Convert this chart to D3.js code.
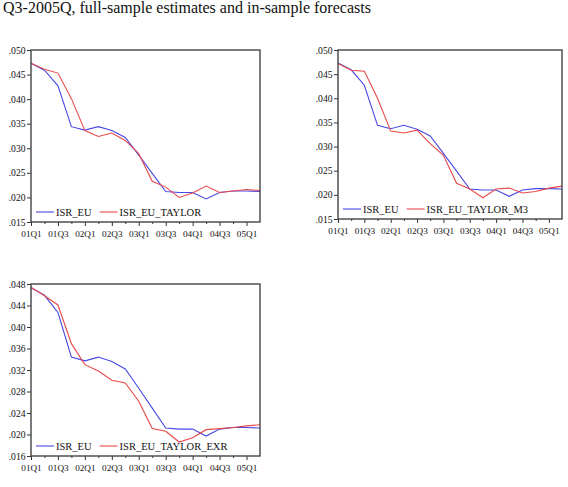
<!DOCTYPE html>
<html>
<head>
<meta charset="utf-8">
<script src="https://cdn.jsdelivr.net/npm/d3@7"></script>
<style>
  body { margin: 0; background: white; }
  svg { display: block; }
</style>
</head>
<body>
<div id="chart"></div>
<script>
// quarters 2001Q1 .. 2005Q2
const quarters = ["01Q1", "01Q2", "01Q3", "01Q4", "02Q1", "02Q2", "02Q3", "02Q4", "03Q1",
    "03Q2", "03Q3", "03Q4", "04Q1", "04Q2", "04Q3", "04Q4", "05Q1", "05Q2"];

const isrEu = [0.0473, 0.0459, 0.0427, 0.0344, 0.0337, 0.0344, 0.0336, 0.0322, 0.0286,
    0.0249, 0.0212, 0.0210, 0.0210, 0.0197, 0.0210, 0.0213, 0.0213, 0.0212];

const isrEuTaylor = [0.0473, 0.0461, 0.0453, 0.0401, 0.0336, 0.0324, 0.0331, 0.0316, 0.0289,
    0.0233, 0.0221, 0.0200, 0.0209, 0.0223, 0.0210, 0.0213, 0.0216, 0.0214];

const isrEuTaylorM3 = [0.0472, 0.0458, 0.0456, 0.0400, 0.0332, 0.0328, 0.0334, 0.0306, 0.0282,
    0.0224, 0.0212, 0.0194, 0.0212, 0.0214, 0.0204, 0.0207, 0.0214, 0.0218];

const isrEuTaylorExr = [0.0474, 0.0458, 0.0441, 0.0369, 0.0330, 0.0318, 0.0301, 0.0296, 0.0262,
    0.0211, 0.0206, 0.0186, 0.0194, 0.0209, 0.0211, 0.0213, 0.0216, 0.0218];

const yTicksA = [0.015, 0.020, 0.025, 0.030, 0.035, 0.040, 0.045, 0.050];
const yTicksB = [0.016, 0.020, 0.024, 0.028, 0.032, 0.036, 0.040, 0.044, 0.048];

const titleText = "Q3-2005Q, full-sample estimates and in-sample forecasts";

const width = 568, height = 487;
const serif = "'Liberation Serif', 'Times New Roman', serif";
const blue = "#4848e6", red = "#e84a4a";

const svg = d3.select("#chart").append("svg")
    .attr("width", width)
    .attr("height", height)
    .attr("font-family", serif);

svg.append("text")
    .attr("x", 3)
    .attr("y", 13)
    .attr("font-size", 16)
    .attr("fill", "#111")
    .text(titleText);

function drawPanel(box, series, yTicks, names) {
    const g = svg.append("g");

    const x = d3.scaleLinear()
        .domain([0, quarters.length - 1])
        .range([box.left, box.right]);
    const y = d3.scaleLinear()
        .domain([yTicks[0], yTicks[yTicks.length - 1]])
        .range([box.bottom, box.top]);

    // x ticks: long on even quarters (labelled), short on odd ones
    const xAxis = d3.axisBottom(x)
        .tickValues(d3.range(0, quarters.length - 1))
        .tickSize(0)
        .tickFormat(function (i) { return i % 2 === 0 ? quarters[i] : ""; });
    const gx = g.append("g")
        .attr("transform", "translate(0," + box.bottom + ")")
        .call(xAxis)
        .attr("font-family", serif)
        .attr("font-size", 9.2);
    gx.select(".domain").remove();
    gx.selectAll(".tick line")
        .attr("y2", function (i) { return i % 2 === 0 ? 4 : 2; })
        .attr("stroke", "#333");
    gx.selectAll(".tick text")
        .attr("y", 8.5)
        .attr("fill", "#111");

    const yAxis = d3.axisLeft(y)
        .tickValues(yTicks)
        .tickSize(4)
        .tickPadding(1.5)
        .tickFormat(function (d) { return d3.format(".3f")(d).replace(/^0/, ""); });
    const gy = g.append("g")
        .attr("transform", "translate(" + box.left + ",0)")
        .call(yAxis)
        .attr("font-family", serif)
        .attr("font-size", 9.6);
    gy.select(".domain").remove();
    gy.selectAll(".tick line").attr("stroke", "#333");
    gy.selectAll(".tick text").attr("fill", "#111");

    const line = d3.line()
        .x(function (d, i) { return x(i); })
        .y(function (d) { return y(d); });

    const colors = [blue, red];
    series.forEach(function (s, k) {
        g.append("path")
            .datum(s)
            .attr("d", line)
            .attr("fill", "none")
            .attr("stroke", colors[k])
            .attr("stroke-width", 1.1);
    });

    g.append("rect")
        .attr("x", box.left)
        .attr("y", box.top)
        .attr("width", box.right - box.left)
        .attr("height", box.bottom - box.top)
        .attr("fill", "none")
        .attr("stroke", "#444")
        .attr("stroke-width", 1.4);

    // legend
    const ly = box.bottom - 10;
    let lx = box.left + 5;
    names.forEach(function (name, k) {
        g.append("line")
            .attr("x1", lx).attr("x2", lx + 18)
            .attr("y1", ly).attr("y2", ly)
            .attr("stroke", colors[k])
            .attr("stroke-width", 1.1);
        const t = g.append("text")
            .attr("x", lx + 20)
            .attr("y", ly + 3.5)
            .attr("fill", "#111")
            .attr("font-size", 10.5)
            .text(name);
        lx += 20 + t.node().getComputedTextLength() + 8;
    });
}

drawPanel({ left: 31, right: 260, top: 50, bottom: 222 },
    [isrEu, isrEuTaylor], yTicksA, ["ISR_EU", "ISR_EU_TAYLOR"]);
drawPanel({ left: 338, right: 562, top: 50, bottom: 219 },
    [isrEu, isrEuTaylorM3], yTicksA, ["ISR_EU", "ISR_EU_TAYLOR_M3"]);
drawPanel({ left: 31, right: 260, top: 284, bottom: 456 },
    [isrEu, isrEuTaylorExr], yTicksB, ["ISR_EU", "ISR_EU_TAYLOR_EXR"]);
</script>
</body>
</html>
